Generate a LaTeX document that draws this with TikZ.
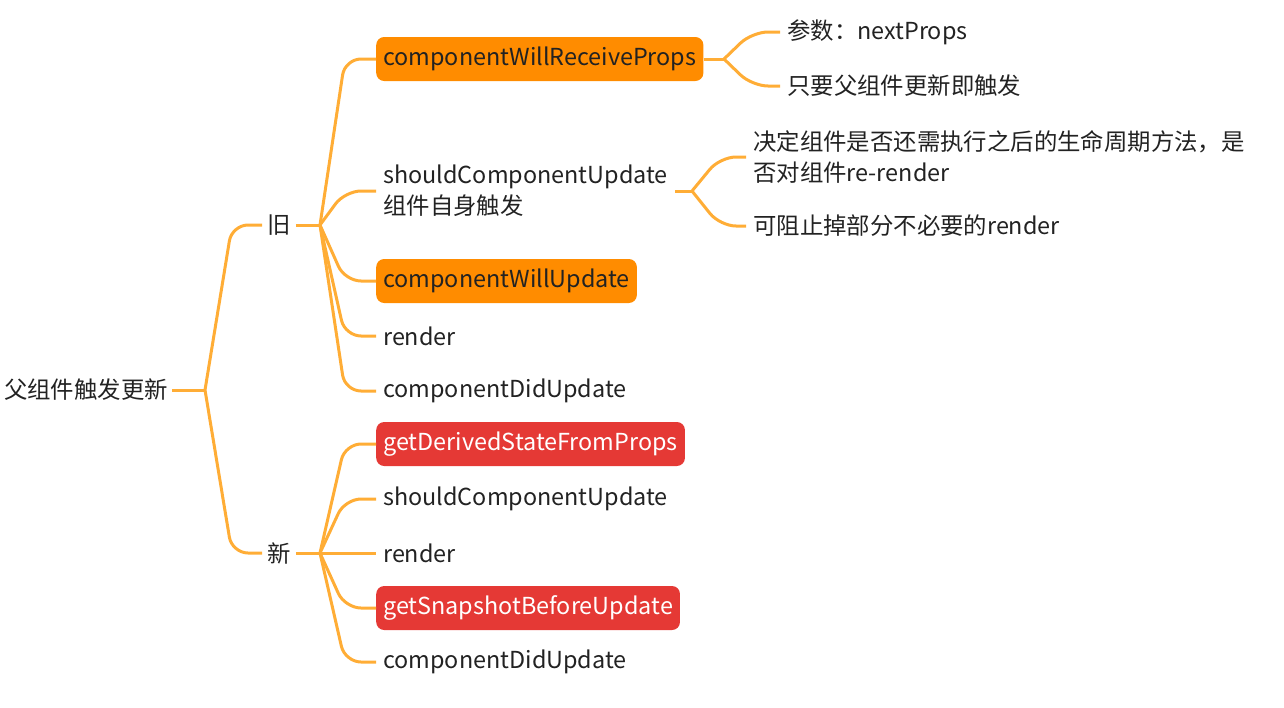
\documentclass[tikz,border=0pt]{standalone}
\usepackage{fontspec}
\setmainfont{Noto Sans CJK SC}
\usepackage{tikz}
\usetikzlibrary{positioning}

\definecolor{branchcol}{HTML}{FFAD36}
\definecolor{oldcol}{HTML}{FF8C00}
\definecolor{newcol}{HTML}{E53935}
\definecolor{textcol}{HTML}{222222}

\tikzset{
  topic/.style={font=\fontsize{23.4}{31}\selectfont, text=textcol, anchor=west,
    inner xsep=7pt, inner ysep=0pt, minimum height=44pt, align=left},
  oldbox/.style={topic, fill=oldcol, rounded corners=8pt},
  newbox/.style={topic, fill=newcol, text=white, rounded corners=8pt},
  branch/.style={draw=branchcol, line width=3pt, rounded corners=16pt},
}

\begin{document}
\begin{tikzpicture}[x=1pt,y=-1pt]
  \useasboundingbox (0,0) rectangle (1284,707);
  % main topic and the two groups
  \node[topic, inner xsep=4pt] (root) at (0,390) {父组件触发更新};
  \node[topic, inner xsep=5pt] (old)  at (262,225) {旧};
  \node[topic, inner xsep=5pt] (new)  at (262,553) {新};
  % old lifecycle
  \node[oldbox] (o_wrp) at (376,59)  {componentWillReceiveProps};
  \node[topic]  (o_scu) at (376,191) {shouldComponentUpdate\\组件自身触发};
  \node[oldbox] (o_wu)  at (376,281) {componentWillUpdate};
  \node[topic]  (o_rnd) at (376,336) {render};
  \node[topic]  (o_du)  at (376,391) {componentDidUpdate};
  % notes
  \node[topic] (wrp_arg)  at (780,32)  {参数：nextProps};
  \node[topic] (wrp_when) at (780,86)  {只要父组件更新即触发};
  \node[topic] (scu_what) at (746,157) {决定组件是否还需执行之后的生命周期方法，是\\否对组件re-render};
  \node[topic] (scu_skip) at (746,226) {可阻止掉部分不必要的render};
  % new lifecycle
  \node[newbox] (n_gdsfp) at (376,444) {getDerivedStateFromProps};
  \node[topic]  (n_scu)   at (376,499) {shouldComponentUpdate};
  \node[topic]  (n_rnd)   at (376,553) {render};
  \node[newbox] (n_gsbu)  at (376,608) {getSnapshotBeforeUpdate};
  \node[topic]  (n_du)    at (376,662) {componentDidUpdate};

  % junctions
  \coordinate (root_j) at (205,390);
  \coordinate (old_j)  at (320,225);
  \coordinate (new_j)  at (320,553);
  \coordinate (wrp_j)  at (724,59);
  \coordinate (scu_j)  at (692,191);

  \draw[branch] (root.east) -- (root_j);
  \foreach \c in {old,new}
    \draw[branch] (root_j) -- ([xshift=27pt]root_j |- \c.west) -- (\c.west);
  \draw[branch] (old.east) -- (old_j);
  \foreach \c in {o_wrp,o_scu,o_wu,o_rnd,o_du}
    \draw[branch] (old_j) -- ([xshift=25pt]old_j |- \c.west) -- (\c.west);
  \draw[branch] (new.east) -- (new_j);
  \foreach \c in {n_gdsfp,n_scu,n_rnd,n_gsbu,n_du}
    \draw[branch] (new_j) -- ([xshift=25pt]new_j |- \c.west) -- (\c.west);
  \draw[branch] (o_wrp.east) -- (wrp_j);
  \foreach \c in {wrp_arg,wrp_when}
    \draw[branch] (wrp_j) -- ([xshift=28pt]wrp_j |- \c.west) -- (\c.west);
  \draw[branch] (o_scu.east) -- (scu_j);
  \foreach \c in {scu_what,scu_skip}
    \draw[branch] (scu_j) -- ([xshift=28pt]scu_j |- \c.west) -- (\c.west);
\end{tikzpicture}
\end{document}
